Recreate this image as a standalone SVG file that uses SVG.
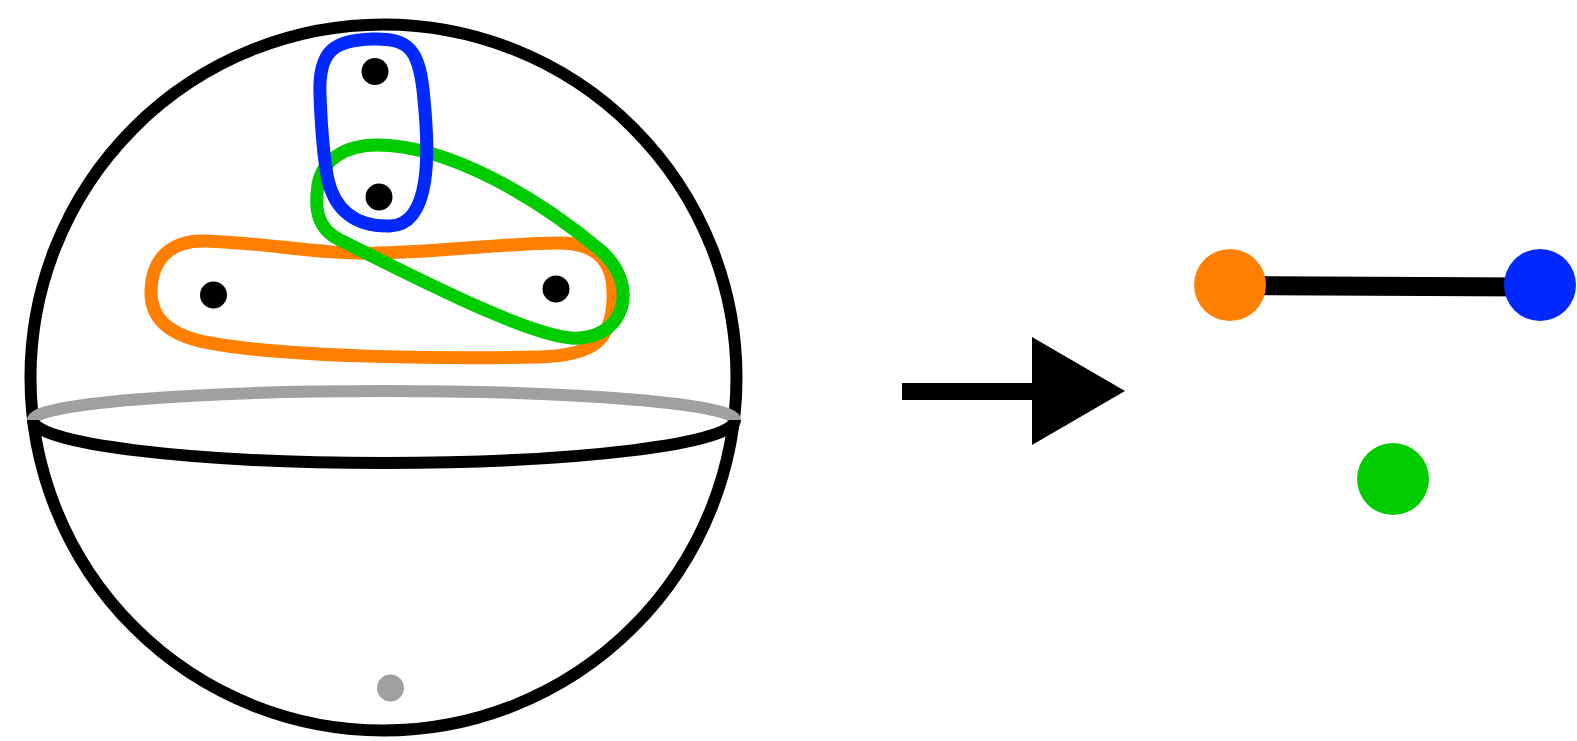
<svg xmlns="http://www.w3.org/2000/svg" width="1577" height="741" viewBox="0 0 1577 741">
<style>
.loop{fill:none;stroke-width:13;stroke-linejoin:round}
.pt{fill:#000}
</style>
<rect width="1577" height="741" fill="#fff"/>
<g id="sphere">
<circle cx="383.5" cy="377.5" r="353" fill="none" stroke="#000" stroke-width="12"/>
<path d="M 33,420 A 351,29 0 0 1 735,420" fill="none" stroke="#a0a0a0" stroke-width="12"/>
<path d="M 33,420 A 351,43 0 0 0 735,420" fill="none" stroke="#000" stroke-width="12"/>
<circle cx="390.5" cy="688" r="13.5" fill="#a0a0a0"/>
</g>
<g id="points">
<circle class="pt" cx="375" cy="71.5" r="13.5"/>
<circle class="pt" cx="379" cy="197" r="13.5"/>
<circle class="pt" cx="213.5" cy="295" r="13.5"/>
<circle class="pt" cx="556" cy="289" r="13.5"/>
</g>
<g id="orange-loop">
<path class="loop" stroke="#ff8000" d="M 205,241 C 270,243 320,255 380,253 C 450,251 510,243 560,243 C 600,243 615,265 613,300 C 611,340 595,355 540,357 C 460,359 290,358 210,343 C 165,335 150,315 151,290 C 152,258 172,240 205,241 Z"/>
</g>
<g id="green-loop">
<path class="loop" stroke="#00cc00" d="M 377,145 C 450,145 540,200 600,250 C 640,285 625,335 580,338 C 540,342 420,280 340,240 C 315,228 315,205 318,185 C 322,160 345,145 377,145 Z"/>
</g>
<g id="blue-loop">
<path class="loop" stroke="#0028ff" d="M 320,95 C 318,50 335,40 372,39 C 410,38 420,50 424,100 C 429,150 432,225 390,226 C 355,227 335,210 328,180 C 322,150 321,120 320,95 Z"/>
</g>
<g id="arrow">
<rect x="902" y="383" width="131" height="17" fill="#000"/>
<polygon points="1032,337 1032,445 1125,391" fill="#000"/>
</g>
<g id="connectors">
<line x1="1230" y1="285.5" x2="1540" y2="287" stroke="#000" stroke-width="19"/>
</g>
<g id="node-orange"><circle cx="1230" cy="285" r="36" fill="#ff8000"/></g>
<g id="node-blue"><circle cx="1540" cy="285" r="36" fill="#0028ff"/></g>
<g id="node-green"><circle cx="1393" cy="479" r="36" fill="#00cc00"/></g>
</svg>
